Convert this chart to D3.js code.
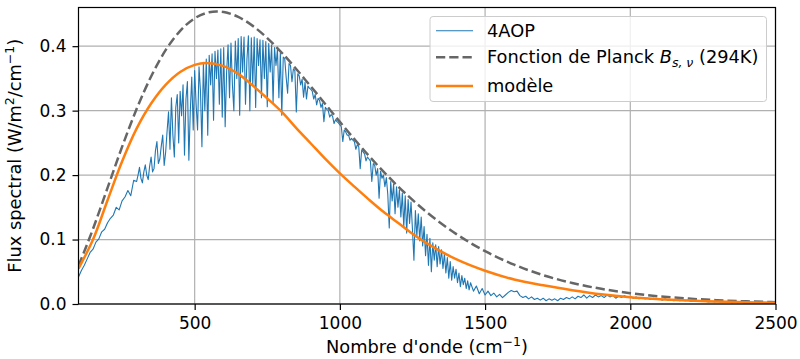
<!DOCTYPE html>
<html><head><meta charset="utf-8">
<script src="https://cdn.jsdelivr.net/npm/d3@7"></script>
<style>body{margin:0;background:#fff}</style>
</head><body><svg id="chart" width="800" height="359"></svg>
<script>
// ---------- data ----------
const xTicks = [500, 1000, 1500, 2000, 2500];
const yTicks = [0, 0.1, 0.2, 0.3, 0.4];
const yTickLabels = ["0.0", "0.1", "0.2", "0.3", "0.4"];

// 4AOP spectrum: 100-290 every 10 cm-1
const aopLowWn = d3.range(100, 300, 10);
const aopLowFlux = [
  0.042,0.052,0.060,0.070,0.080,0.085,0.096,0.101,0.112,0.116,
  0.126,0.133,0.138,0.150,0.146,0.160,0.166,0.176,0.168,0.192
];
// 300-1445 every 5 cm-1
const aopMidWn = d3.range(300, 1450, 5);
const aopMidFlux = [
  0.190,0.200,0.212,0.195,0.188,0.205,0.216,0.200,0.193,0.214,
  0.228,0.205,0.210,0.238,0.252,0.218,0.225,0.245,0.262,0.215,
  0.235,0.268,0.298,0.240,0.320,0.262,0.228,0.305,0.325,0.250,
  0.330,0.292,0.340,0.231,0.318,0.345,0.223,0.300,0.352,0.270,
  0.362,0.310,0.270,0.368,0.330,0.244,0.375,0.300,0.380,0.262,
  0.386,0.340,0.388,0.285,0.392,0.350,0.394,0.310,0.396,0.290,
  0.398,0.275,0.360,0.402,0.320,0.405,0.340,0.300,0.408,0.350,
  0.412,0.293,0.415,0.360,0.414,0.310,0.380,0.416,0.300,0.413,
  0.340,0.414,0.305,0.412,0.370,0.410,0.320,0.409,0.350,0.407,
  0.306,0.404,0.360,0.402,0.312,0.398,0.370,0.395,0.320,0.390,
  0.293,0.383,0.381,0.352,0.327,0.373,0.370,0.345,0.365,0.362,
  0.298,0.357,0.354,0.340,0.349,0.321,0.344,0.318,0.338,0.335,
  0.333,0.330,0.318,0.325,0.309,0.319,0.316,0.305,0.311,0.283,
  0.305,0.302,0.300,0.290,0.294,0.291,0.280,0.286,0.283,0.281,
  0.278,0.275,0.252,0.270,0.267,0.262,0.262,0.254,0.257,0.254,
  0.252,0.240,0.247,0.244,0.210,0.239,0.236,0.233,0.222,0.228,
  0.225,0.222,0.190,0.218,0.215,0.200,0.210,0.164,0.206,0.195,
  0.200,0.182,0.196,0.170,0.118,0.190,0.160,0.186,0.140,0.182,
  0.150,0.177,0.135,0.172,0.120,0.168,0.110,0.162,0.125,0.158,
  0.115,0.068,0.145,0.105,0.140,0.098,0.135,0.090,0.120,0.075,
  0.108,0.060,0.102,0.050,0.095,0.068,0.092,0.058,0.089,0.062,
  0.084,0.055,0.078,0.048,0.072,0.040,0.066,0.037,0.058,0.040,
  0.054,0.033,0.048,0.027,0.044,0.030,0.040,0.024,0.036,0.022
];
// 1450-2500 every 10 cm-1
const aopHighWn = d3.range(1450, 2501, 10);
const aopHighFlux = [
  0.033,0.020,0.028,0.016,0.024,
  0.014,0.020,0.013,0.017,0.011,0.015,0.010,0.014,0.018,0.021,
  0.019,0.020,0.013,0.010,0.012,0.008,0.011,0.007,0.009,0.006,
  0.009,0.005,0.008,0.006,0.008,0.005,0.009,0.007,0.010,0.008,
  0.011,0.008,0.012,0.010,0.014,0.009,0.013,0.010,0.014,0.011,
  0.013,0.010,0.014,0.011,0.013,0.009,0.012,0.010,0.013,0.010,
  0.012,0.009,0.011,0.008,0.010,0.008,0.009,0.007,0.009,0.007,
  0.008,0.006,0.008,0.006,0.007,0.005,0.007,0.005,0.006,0.005,
  0.006,0.004,0.005,0.004,0.005,0.004,0.004,0.003,0.004,0.003,
  0.004,0.003,0.003,0.003,0.003,0.002,0.003,0.002,0.003,0.002,
  0.002,0.002,0.002,0.002,0.002,0.002,0.002,0.001,0.002,0.001,
  0.001
];

// Planck curve (294 K)
const planckWn = [100,150,200,250,300,350,400,450,500,550,575,600,650,700,750,800,900,1000,1100,1200,1300,1400,1500,1600,1700,1800,1900,2000,2100,2200,2300,2400,2500];
const planckFlux = [0.0593,0.1166,0.1802,0.2437,0.3024,0.3530,0.3938,0.4238,0.4432,0.4526,0.4538,0.4529,0.4454,0.4315,0.4125,0.3898,0.3375,0.2825,0.2298,0.1826,0.1421,0.1088,0.0820,0.0610,0.0448,0.0326,0.0235,0.0168,0.0119,0.0084,0.0059,0.0041,0.0028];

// model curve
const modelWn = [100,150,200,250,300,350,400,450,500,540,600,650,700,750,800,850,900,950,1000,1050,1100,1150,1200,1250,1300,1400,1500,1600,1700,1800,1900,2000,2100,2200,2300,2400,2500];
const modelFlux = [0.055,0.100,0.161,0.221,0.272,0.311,0.340,0.360,0.371,0.374,0.369,0.357,0.339,0.319,0.298,0.273,0.249,0.225,0.2026,0.182,0.162,0.143,0.126,0.109,0.094,0.0695,0.0515,0.038,0.029,0.0215,0.015,0.0104,0.0075,0.0053,0.0038,0.0027,0.0019];

const legendLabels = ["4AOP", "Fonction de Planck ", "modèle"];

// ---------- drawing ----------
const aopWn = aopLowWn.concat(aopMidWn, aopHighWn);
const aopFlux = aopLowFlux.concat(aopMidFlux, aopHighFlux);

const svg = d3.select("#chart");
const L = 78.5, R = 775.5, T = 7.5, B = 304;
const x = d3.scaleLinear().domain([100, 2500]).range([L, R]);
const y = d3.scaleLinear().domain([0, 0.46]).range([B, T]);
const font = "DejaVu Sans, sans-serif";
const FS = 17, FL = 17.8;

svg.append("rect").attr("width", 800).attr("height", 359).attr("fill", "#fff");

// grid
const grid = svg.append("g");
grid.selectAll(".gx").data(xTicks).join("line")
  .attr("x1", d => x(d)).attr("x2", d => x(d)).attr("y1", T).attr("y2", B)
  .attr("stroke", "#b0b0b0").attr("stroke-width", 1.2);
grid.selectAll(".gy").data(yTicks).join("line")
  .attr("x1", L).attr("x2", R).attr("y1", d => y(d)).attr("y2", d => y(d))
  .attr("stroke", "#b0b0b0").attr("stroke-width", 1.2);

svg.append("clipPath").attr("id", "clip").append("rect")
  .attr("x", L).attr("y", T).attr("width", R - L).attr("height", B - T);
const plot = svg.append("g").attr("clip-path", "url(#clip)");

const lineAop = d3.line().x((d, i) => x(aopWn[i])).y(d => y(d));
plot.append("path").datum(aopFlux).attr("d", lineAop)
  .attr("fill", "none").attr("stroke", "#1f77b4").attr("stroke-width", 1.1)
  .attr("stroke-linejoin", "round");

const linePl = d3.line().x((d, i) => x(planckWn[i])).y(d => y(d)).curve(d3.curveMonotoneX);
plot.append("path").datum(planckFlux).attr("d", linePl)
  .attr("fill", "none").attr("stroke", "#666666").attr("stroke-width", 2.5)
  .attr("stroke-dasharray", "9.25,4");

const lineMo = d3.line().x((d, i) => x(modelWn[i])).y(d => y(d)).curve(d3.curveCatmullRom.alpha(0.5));
plot.append("path").datum(modelFlux).attr("d", lineMo)
  .attr("fill", "none").attr("stroke", "#ff7f0e").attr("stroke-width", 2.5);

// axes
const xAxis = d3.axisBottom(x).tickValues(xTicks).tickSize(6).tickPadding(7).tickFormat(d3.format("d"));
const gx = svg.append("g").attr("transform", `translate(0,${B})`).call(xAxis);
const yAxis = d3.axisLeft(y).tickValues(yTicks).tickSize(6).tickPadding(6).tickFormat((d, i) => yTickLabels[i]);
const gy = svg.append("g").attr("transform", `translate(${L},0)`).call(yAxis);
[gx, gy].forEach(g => {
  g.select(".domain").remove();
  g.selectAll("line").attr("stroke", "#000").attr("stroke-width", 1.2);
  g.selectAll("text").attr("font-family", font).attr("font-size", FS).attr("fill", "#000");
});

// frame
svg.append("rect").attr("x", L).attr("y", T).attr("width", R - L).attr("height", B - T)
  .attr("fill", "none").attr("stroke", "#000").attr("stroke-width", 1.2);

// axis labels
const xl = svg.append("text").attr("x", (L + R) / 2).attr("y", 353)
  .attr("text-anchor", "middle").attr("font-family", font).attr("font-size", FL);
xl.append("tspan").text("Nombre d'onde (cm");
xl.append("tspan").attr("dy", -7).attr("font-size", 12.5).text("−1");
xl.append("tspan").attr("dy", 7).text(")");

const yl = svg.append("text").attr("transform", `translate(21,${(T + B) / 2}) rotate(-90)`)
  .attr("text-anchor", "middle").attr("font-family", font).attr("font-size", FL);
yl.append("tspan").text("Flux spectral (W/m");
yl.append("tspan").attr("dy", -7).attr("font-size", 12.5).text("2");
yl.append("tspan").attr("dy", 7).text("/cm");
yl.append("tspan").attr("dy", -7).attr("font-size", 12.5).text("−1");
yl.append("tspan").attr("dy", 7).text(")");

// legend
const lg = svg.append("g");
lg.append("rect").attr("x", 430).attr("y", 16.5).attr("width", 336.5).attr("height", 85)
  .attr("rx", 3).attr("fill", "#fff").attr("fill-opacity", 0.8)
  .attr("stroke", "#cccccc").attr("stroke-width", 1);
const rowsY = [30.7, 57.3, 86];
const styles = [
  {stroke: "#1f77b4", w: 1.1, dash: null},
  {stroke: "#666666", w: 2.5, dash: "9.25,4"},
  {stroke: "#ff7f0e", w: 2.5, dash: null}
];
legendLabels.forEach((lab, i) => {
  lg.append("line").attr("x1", 436).attr("x2", 473).attr("y1", rowsY[i]).attr("y2", rowsY[i])
    .attr("stroke", styles[i].stroke).attr("stroke-width", styles[i].w)
    .attr("stroke-dasharray", styles[i].dash);
  const t = lg.append("text").attr("x", 487).attr("y", rowsY[i] + 6)
    .attr("font-family", font).attr("font-size", FL).attr("fill", "#000");
  t.append("tspan").text(lab);
  if (i === 1) {
    t.append("tspan").attr("font-style", "italic").text("B");
    t.append("tspan").attr("font-style", "italic").attr("font-size", 12.5).attr("dy", 4).text("s, ν");
    t.append("tspan").attr("dy", -4).text(" (294K)");
  }
});
</script></body></html>
